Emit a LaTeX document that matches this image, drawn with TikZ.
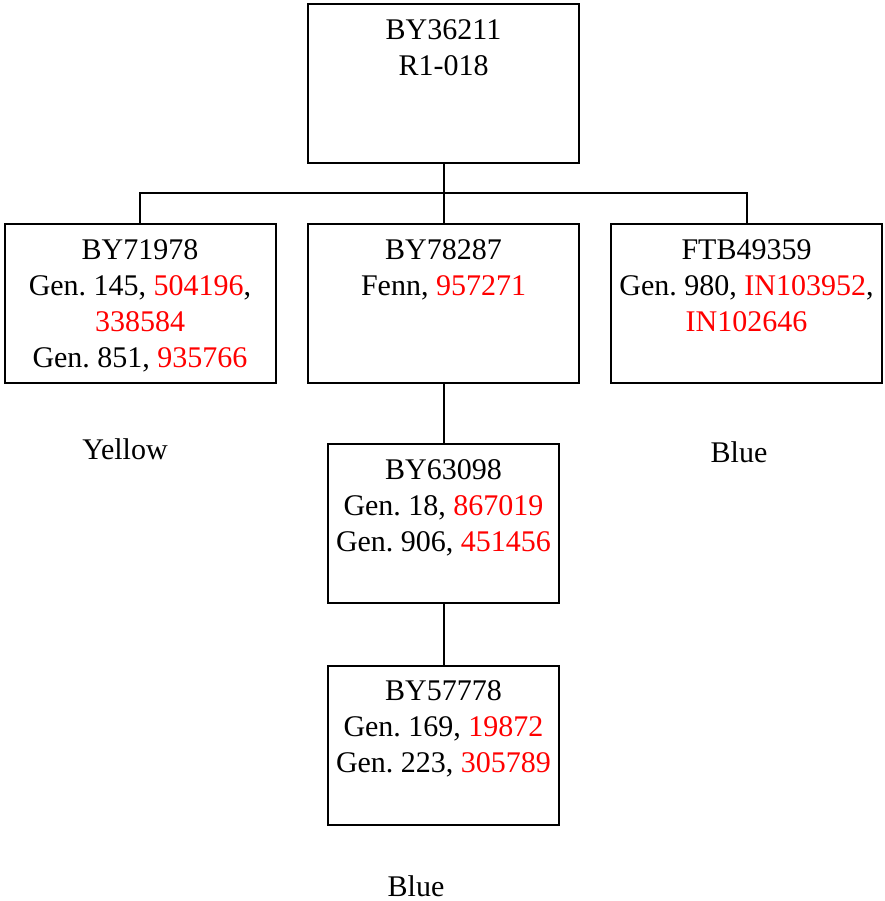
\documentclass[tikz,border=0pt]{standalone}
\usepackage{fontspec}
\setmainfont{Liberation Serif}
\usepackage{xcolor}
\definecolor{hitred}{RGB}{255,0,0}
\newcommand{\hit}[1]{\textcolor{hitred}{#1}}
\frenchspacing

\begin{document}
\begin{tikzpicture}[x=1pt,y=-1pt,line width=2pt,
  box/.style={draw,minimum width=271pt,minimum height=159pt,inner sep=0pt},
  sbox/.style={box,minimum width=231pt},
  txt/.style={anchor=north,inner sep=0pt,align=center,font=\fontsize{30}{36}\selectfont},
  lab/.style={anchor=base,inner sep=0pt,font=\fontsize{30}{36}\selectfont}]
\useasboundingbox (0,0) rectangle (884,901);
\node[box] (root) at (443.5,83.5) {};
\node[box] (left) at (140,303.5) {};
\node[box] (mid) at (443.5,303.5) {};
\node[box] (right) at (746.5,303.5) {};
\node[sbox] (sub) at (443.5,523.5) {};
\node[sbox] (leaf) at (443.5,745) {};
\node[txt] (troot) at ([yshift=-10pt]root.north) {\strut BY36211\\R1-018};
\node[txt] (tleft) at ([yshift=-10pt]left.north) {\strut BY71978\\Gen. 145, \hit{504196},\\\hit{338584}\\Gen. 851, \hit{935766}};
\node[txt] (tmid) at ([yshift=-10pt]mid.north) {\strut BY78287\\Fenn, \hit{957271}};
\node[txt] (tright) at ([yshift=-10pt]right.north) {\strut FTB49359\\Gen. 980, \hit{IN103952},\\\hit{IN102646}};
\node[txt] (tsub) at ([yshift=-10pt]sub.north) {\strut BY63098\\Gen. 18, \hit{867019}\\Gen. 906, \hit{451456}};
\node[txt] (tleaf) at ([yshift=-10pt]leaf.north) {\strut BY57778\\Gen. 169, \hit{19872}\\Gen. 223, \hit{305789}};
\node[lab] (yellow) at (125,459) {Yellow};
\node[lab] (blue1) at (739,462) {Blue};
\node[lab] (blue2) at (416,896) {Blue};
\coordinate (fork) at (443.5,193);
\draw (root) -- (fork);
\draw (fork) -| (left.north);
\draw (fork) -| (right.north);
\draw (fork) -- (mid);
\draw (mid) -- (sub);
\draw (sub) -- (leaf);
\end{tikzpicture}
\end{document}
